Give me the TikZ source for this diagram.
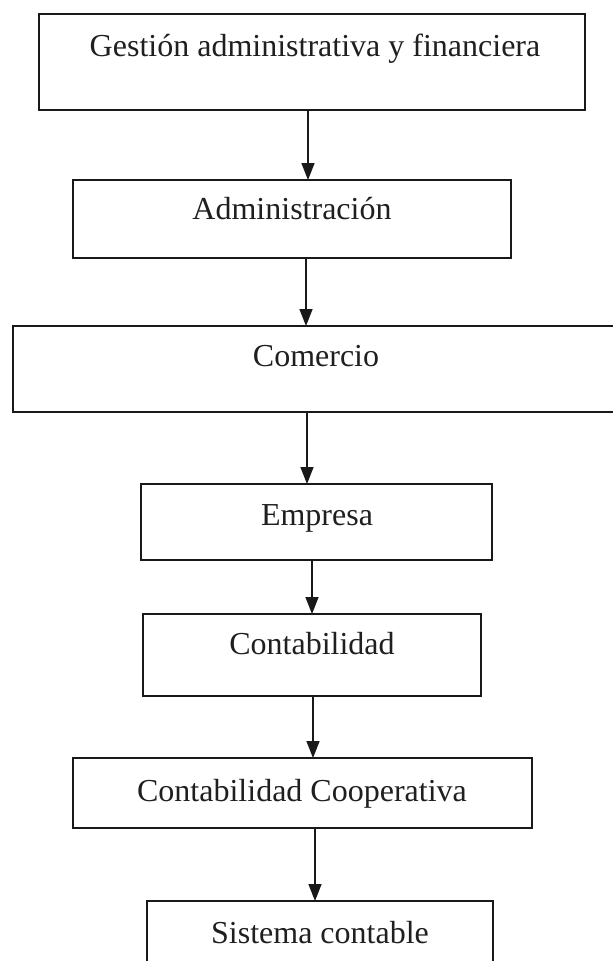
\documentclass[tikz,border=0pt]{standalone}
\usepackage{fontspec}
\setmainfont{Liberation Serif}
\usetikzlibrary{arrows.meta}
\tikzset{
  box/.style={draw=black!90, line width=1.6pt, fill=none, inner sep=0pt, outer sep=0pt},
  lbl/.style={inner sep=0pt, font=\fontsize{32}{38}\selectfont, text=black!88, anchor=base},
  arr/.style={draw=black!90, line width=1.6pt, -{Triangle[length=17pt,width=13pt]}, shorten >=0pt}
}
\begin{document}
\begin{tikzpicture}[x=1pt,y=-1pt]
\useasboundingbox (0,0) rectangle (613,961);
\fill[white] (0,0) rectangle (613,961);
% boxes
\node[box, minimum width=546pt, minimum height=96pt] (b1) at (312,62) {};
\node[box, minimum width=438pt, minimum height=78pt] (b2) at (292,219) {};
\node[box, minimum width=617pt, minimum height=86pt] (b3) at (321.5,369) {};
\node[box, minimum width=351pt, minimum height=76pt] (b4) at (316.5,522) {};
\node[box, minimum width=338pt, minimum height=82pt] (b5) at (312,655) {};
\node[box, minimum width=459pt, minimum height=70pt] (b6) at (302.5,793) {};
\node[box, minimum width=346pt, minimum height=74pt] (b7) at (320,938) {};
% labels
\node[lbl] (t1) at (315,56) {Gestión administrativa y financiera};
\node[lbl] (t2) at (292,219) {Administración};
\node[lbl] (t3) at (316,366) {Comercio};
\node[lbl] (t4) at (317,525) {Empresa};
\node[lbl] (t5) at (312,654) {Contabilidad};
\node[lbl] (t6) at (302,801) {Contabilidad Cooperativa};
\node[lbl] (t7) at (320,943) {Sistema contable};
% arrows
\draw[arr] (b1.south -| 308,0) -- (b2.north -| 308,0);
\draw[arr] (b2.south -| 306,0) -- (b3.north -| 306,0);
\draw[arr] (b3.south -| 307,0) -- (b4.north -| 307,0);
\draw[arr] (b4.south -| 312,0) -- (b5.north -| 312,0);
\draw[arr] (b5.south -| 313,0) -- (b6.north -| 313,0);
\draw[arr] (b6.south -| 315,0) -- (b7.north -| 315,0);
\end{tikzpicture}
\end{document}
